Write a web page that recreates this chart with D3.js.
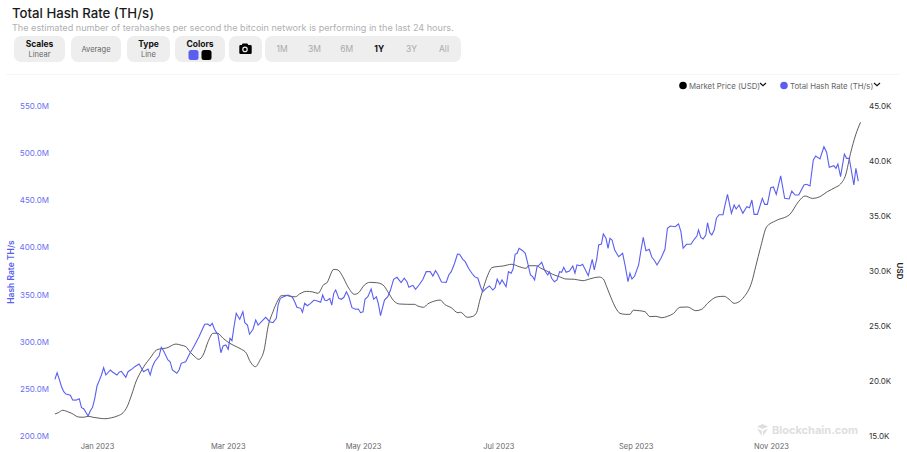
<!DOCTYPE html>
<html>
<head>
<meta charset="utf-8">
<title>Total Hash Rate (TH/s)</title>
<script src="https://d3js.org/d3.v7.min.js"></script>
<style>
  body { margin: 0; background: #fff; }
  svg { display: block; font-family: Inter, "Noto Sans", sans-serif; }
</style>
</head>
<body>
<script>
// [days since 1 Jan 2023, value]
const hashRate = [
  [-19,260.1],[-18,267.1],[-17,260],[-16,252.3],[-15,247],[-14,244.5],[-12,243.2],[-11,238.2],[-9.5,238],[-8,239.6],
  [-7,230],[-6,229],[-4,221.2],[-3,226.8],[-2,230.4],[-1,240],[0,253],[1,258.7],[2,264.7],[3,272.4],
  [4,264.7],[6,270],[7,267.9],[9,264.7],[10,267.6],[11,268.6],[13,262.3],[14,268.2],[16,271.4],[17,273.5],
  [19,276.4],[21,268.2],[23,271],[24,264.7],[25,273.5],[26,278.8],[28,284.8],[29,294],[30,290.5],[32,280.6],
  [33,278.8],[34,270],[36,266.5],[37,270],[38,277.1],[40,278.8],[42,288.3],[43,292],[44,296.2],[46,305.3],
  [47.4,312.4],[48.6,318.5],[50,318.8],[51,316.7],[52,319.5],[53,313.2],[54.6,307.1],[55.9,288.3],[56.9,295.5],[58.1,296.5],
  [59.2,292],[60,303.6],[60.9,301.1],[61.8,315.9],[62.8,330.1],[64.4,323.8],[65.8,331.8],[66.7,320.2],[67.9,317.7],[68.8,307.9],
  [70.4,313.2],[71.6,323],[72.7,317.7],[74.5,322],[76.1,325.9],[77.9,321.2],[79.4,320.2],[80.9,324.8],[81.7,338.9],[82.7,346],
  [84.2,347.7],[86.2,349.5],[88,347.7],[89.2,342.4],[90.2,336.5],[91.9,335.4],[92.7,331.2],[93.7,340.7],[94.9,338.2],[96.4,340.7],
  [97.9,344.2],[99.4,343.2],[100.9,341.8],[101.8,349.5],[102.7,344.2],[103.7,343.5],[105,346],[105.9,338.9],[106.8,351.3],[107.7,354.8],
  [109.1,346],[110.2,345],[111.4,347.1],[112.5,353],[113.6,347.7],[115,336.1],[116.7,334.4],[117.9,334.7],[118.9,330.8],[120,331.8],
  [120.9,345],[122.2,347.7],[123.7,355.9],[124.8,345],[126,347.7],[126.9,340.7],[127.9,327.6],[129.7,344.2],[131.2,347.7],[132.4,354.8],
  [133.8,366.2],[135.3,368.3],[137.2,362.6],[138.6,367.3],[139.8,363.6],[140.7,357.7],[141.8,359.1],[142.5,359.8],[143.7,355.6],[145.5,360.9],
  [147,366.2],[148.5,374.3],[150.3,374.3],[151.5,369.7],[152.7,375.3],[153.7,371.8],[155.4,363.3],[157.5,363],[158.7,370.8],[159.8,374.3],
  [161.3,383.2],[162.6,393],[163.5,392.7],[165,387.4],[166.1,384.9],[167.6,377.9],[169.1,372.6],[170.3,369],[171.8,367.3],[173,358.3],
  [174,353],[175.5,356.6],[177,359.1],[178.5,354.8],[179.6,357.3],[180.5,366.5],[181.7,360.9],[182.7,365.5],[184.5,358.3],[185.6,374.3],
  [186.8,372.6],[187.7,377.1],[188.6,392.7],[189.5,393.8],[190.4,399.1],[192,396.5],[193.2,393.8],[194.3,383.2],[195.5,370.8],[196.5,369],
  [197.4,365.5],[198.5,379.6],[199.5,381.4],[200.6,384.2],[201.8,376.1],[203.3,370.8],[204,374.3],[205.1,367.3],[206.3,363.6],[207.5,365.5],
  [208.7,374.3],[209.6,373.6],[210.5,378.9],[211.6,373.6],[213.1,375],[214.6,380.3],[215.6,372.6],[216.5,381.4],[218,380.6],[219,382.1],
  [220.1,377.1],[221.6,370],[223.4,387.4],[224.3,376.1],[225.4,387.4],[226.3,402.6],[227.5,403.6],[228.4,414.2],[229.6,409.7],[230.5,399.1],
  [231.4,409.7],[232.3,407.9],[233.5,397.3],[235.3,390.2],[237.1,393.8],[238.3,379.6],[239.5,363.6],[240.4,372.6],[241.3,366.5],[242.5,369.7],
  [244.3,381.4],[245.4,397.3],[246.4,410.7],[247.6,396.5],[249.1,398],[250.3,389.5],[251.5,385.9],[252.6,381.4],[254.4,388.5],[256.2,398],
  [257.3,420.3],[258.6,422.7],[260.8,422],[262.3,424.9],[263.4,416.7],[264.4,399.1],[265.9,403.3],[267.9,403.3],[269.4,408.6],[270.6,412.1],
  [271.3,418.5],[272.4,410.7],[273.4,408.9],[274.6,413.2],[275.4,426.2],[276.4,415.6],[277.3,413.2],[278.4,418.5],[279.4,430.9],[280.6,434.7],
  [282.4,434.7],[282.9,440.8],[284.4,456.3],[286.2,436.2],[287.4,445],[288.3,440.8],[289.6,445],[291.3,436.2],[293.1,443.2],[294.3,442.1],
  [295.4,450.3],[296.4,435.1],[297.9,435.1],[300.1,452.1],[301.2,445.7],[302.4,445.7],[303.9,463.3],[305.1,464.1],[306.4,456.3],[308.4,475.8],
  [310.2,452.1],[312.2,451.4],[313.4,459.8],[314.9,455.6],[316.5,455.6],[318.9,466.2],[320.1,467],[321.6,465.2],[323.1,492.7],[324.2,497],
  [326.1,493.8],[327.9,506.8],[329.1,500.9],[330.3,485],[332.4,486.7],[333.3,483.9],[334.2,488.5],[335.4,475],[337.1,498.8],[338.1,494.5],
  [339.3,494.5],[341.4,466.2],[342.3,483.9],[343.4,470.4]
];
const marketPrice = [
  [-19,17],[-17.4,17.12],[-15.5,17.34],[-13.6,17.24],[-11.4,17.06],[-8.4,16.73],[-6.2,16.7],[-3.9,16.79],[-1.7,16.7],[1.4,16.61],
  [3.6,16.57],[6.6,16.66],[9.6,16.85],[11.8,17.12],[13.6,17.66],[15.6,18.73],[17.6,19.94],[19.4,20.7],[21.6,21.45],[23.9,22.06],
  [26.9,22.82],[29.1,22.94],[31.4,23],[35.6,23.36],[38.1,23.25],[40.1,23.12],[41.9,22.66],[43.8,22.27],[45.9,21.97],[47.9,22.36],
  [50.1,23.57],[52.4,24.34],[54.4,24.34],[56.9,23.88],[59.9,23.43],[62.9,23.12],[65.2,22.88],[67.4,22.52],[68.9,21.85],[71.5,21.3],
  [73.4,21.85],[75.4,22.82],[77.2,24.94],[79.4,26.3],[81.7,27.36],[82.9,27.73],[85.4,27.79],[87.7,27.66],[89.5,27.66],[91.4,27.91],
  [94.5,28.15],[97.4,28.09],[99.7,27.97],[102.4,28.79],[103.5,28.88],[106.8,30.15],[108.7,30.09],[110.9,29.48],[113.2,28.57],[116.2,27.88],
  [117.7,27.97],[120.7,28.73],[123,28.97],[126,28.94],[129,28.73],[131.2,28.12],[133.8,27.3],[136.5,27],[140.2,26.97],[143.2,26.97],
  [144.7,26.82],[147.3,26.7],[149.2,27],[152.3,27.27],[154.8,27.36],[156.8,26.97],[159.8,26.66],[162.8,26.21],[164,26.25],[167,25.79],
  [169.5,25.88],[171.3,26.25],[172.5,27.21],[174,28.27],[176.3,29.64],[178.1,30.3],[180,30.39],[183,30.45],[187.1,30.61],[190.5,30.39],
  [193.6,30.24],[194.6,30.48],[198.1,30.48],[200.3,30.24],[202.6,30.03],[205.5,29.7],[208.6,29.48],[211.6,29.27],[215.3,29.25],[219.1,29.12],
  [222.1,29.27],[224.3,29.39],[226.6,29.45],[228.4,29.27],[229.9,28.57],[231.8,27.6],[234.1,26.6],[235.9,26.15],[238.3,26.06],[240.4,26.06],
  [241.9,26.43],[244.6,26.39],[247.2,26.3],[249.4,25.85],[252.1,25.88],[254.8,25.75],[257.3,25.88],[260.1,26.15],[262.9,26.7],[266.4,26.73],
  [270.1,26.39],[272.8,26.52],[275.4,27.06],[279.9,27.66],[282.9,27.7],[285.1,27.43],[287.4,27.06],[291.9,27.66],[295.4,29.03],[297.1,30.39],
  [299.4,32.21],[302.1,34.03],[306.2,34.57],[312.5,35.15],[316.4,36.3],[319.4,36.82],[322.7,36.6],[326.4,36.79],[329.4,37.21],[333.2,37.61],
  [335.4,37.91],[337.7,38.73],[339.9,40.7],[342.2,42.36],[344.4,43.52]
];
const hashTicks = [200, 250, 300, 350, 400, 450, 500, 550];
const priceTicks = [15, 20, 25, 30, 35, 40, 45];
const dateTicks = ["2023-01-01", "2023-03-01", "2023-05-01", "2023-07-01", "2023-09-01", "2023-11-01"];
const rangeLabels = ["1M", "3M", "6M", "1Y", "3Y", "All"];

const width = 907;
const height = 452;
const blue = "#5a5ff0";
const day0 = new Date(2023, 0, 1);
const toDate = d => d3.timeHour.offset(day0, d * 24);

const svg = d3.select("body").append("svg")
  .attr("width", width)
  .attr("height", height);

// scales
const x = d3.scaleTime()
  .domain([new Date(2023, 0, 1), new Date(2023, 10, 1)])
  .range([97, 771]);
const yHash = d3.scaleLinear().domain([200, 550]).range([436, 106]);
const yPrice = d3.scaleLinear().domain([15, 45]).range([436, 106]);

// header
svg.append("text").attr("x", 12).attr("y", 18)
  .attr("font-size", 13.2).attr("font-weight", 500).attr("fill", "#1a1a1a")
  .text("Total Hash Rate (TH/s)");
svg.append("text").attr("x", 12).attr("y", 30.5)
  .attr("font-size", 9.1).attr("fill", "#b0b0b0")
  .text("The estimated number of terahashes per second the bitcoin network is performing in the last 24 hours.");

// toolbar
function box(bx, w) {
  svg.append("rect").attr("x", bx).attr("y", 36).attr("width", w).attr("height", 26)
    .attr("rx", 7).attr("fill", "#eeeeee");
}
function label(cx, ly, text, size, weight, fill) {
  svg.append("text").attr("x", cx).attr("y", ly).attr("text-anchor", "middle")
    .attr("font-size", size).attr("font-weight", weight).attr("fill", fill).text(text);
}
box(14, 51); label(39.5, 47, "Scales", 8.5, 700, "#111"); label(39.5, 57, "Linear", 7.5, 400, "#666");
box(71, 50); label(96, 52, "Average", 7.5, 400, "#666");
box(127, 43); label(148.5, 47, "Type", 8.5, 700, "#111"); label(148.5, 57, "Line", 7.5, 400, "#666");
box(175, 50); label(200, 47, "Colors", 8.5, 700, "#111");
svg.append("rect").attr("x", 188.5).attr("y", 50).attr("width", 10).attr("height", 10).attr("rx", 2.5).attr("fill", blue);
svg.append("rect").attr("x", 201.5).attr("y", 50).attr("width", 10).attr("height", 10).attr("rx", 2.5).attr("fill", "#000");
box(229, 33);
svg.append("path").attr("fill", "#000")
  .attr("d", "M239.5 45h2.2l1-1.6h4.6l1 1.6h2.2a1.2 1.2 0 0 1 1.2 1.2v6.6a1.2 1.2 0 0 1-1.2 1.2h-10a1.2 1.2 0 0 1-1.2-1.2v-6.6a1.2 1.2 0 0 1 1.2-1.2z");
svg.append("circle").attr("cx", 245).attr("cy", 49.4).attr("r", 2.2).attr("fill", "none").attr("stroke", "#eee").attr("stroke-width", 1.2);
box(265, 196);
const rangeScale = d3.scalePoint().domain(rangeLabels).range([282, 444]);
rangeLabels.forEach(r => label(rangeScale(r), 52, r, 8.5, r === "1Y" ? 700 : 400, r === "1Y" ? "#111" : "#aaa"));

svg.append("line").attr("x1", 6).attr("x2", 900).attr("y1", 74.5).attr("y2", 74.5)
  .attr("stroke", "#f6f6f6");

// legend
function legendItem(cx, text, fill, chevron) {
  svg.append("circle").attr("cx", cx).attr("cy", 85.5).attr("r", 3.8).attr("fill", fill);
  svg.append("text").attr("x", cx + 6).attr("y", 88.5).attr("font-size", 7.8).attr("fill", "#666").text(text);
  svg.append("path").attr("fill", "none").attr("stroke", "#111").attr("stroke-width", 1.2)
    .attr("d", `M${chevron - 3} 83l3 2.6l3 -2.6`);
}
legendItem(683, "Market Price (USD)", "#000", 763);
legendItem(784, "Total Hash Rate (TH/s)", blue, 877);

// watermark
svg.append("path").attr("fill", "#dedede")
  .attr("d", "M762.5 424l5.5 2.5l-5.5 2.5l-5.5 -2.5z M757 428.5l4.8 2.2v5.3z M768 428.5l-4.8 2.2v5.3z");
svg.append("text").attr("x", 772).attr("y", 433.5)
  .attr("font-size", 11).attr("font-weight", 700).attr("fill", "#dedede")
  .text("Blockchain.com");

// axes
const gx = svg.append("g").attr("transform", "translate(0,438)")
  .call(d3.axisBottom(x)
    .tickValues(dateTicks.map(d => d3.timeParse("%Y-%m-%d")(d)))
    .tickSize(0).tickPadding(6)
    .tickFormat(d3.timeFormat("%b %Y")));
const gl = svg.append("g").attr("transform", "translate(49,0)")
  .call(d3.axisLeft(yHash).tickValues(hashTicks).tickSize(0).tickPadding(0)
    .tickFormat(d => d3.format(".1f")(d) + "M"));
const gr = svg.append("g").attr("transform", "translate(869,0)")
  .call(d3.axisRight(yPrice).tickValues(priceTicks).tickSize(0).tickPadding(0)
    .tickFormat(d => d3.format(".1f")(d) + "K"));
[gx, gl, gr].forEach(g => {
  g.select(".domain").remove();
  g.attr("font-family", null).attr("font-size", 8);
});
gx.attr("font-size", 7.5);
gx.selectAll("text").attr("fill", "#666");
gl.selectAll("text").attr("fill", "#6a6ef2");
gr.selectAll("text").attr("fill", "#333");

svg.append("text").attr("transform", "translate(14,272) rotate(-90)")
  .attr("text-anchor", "middle").attr("font-size", 8.5).attr("font-weight", 600).attr("fill", blue)
  .text("Hash Rate TH/s");
svg.append("text").attr("transform", "translate(896.5,271) rotate(90)")
  .attr("text-anchor", "middle").attr("font-size", 8).attr("font-weight", 600).attr("fill", "#222")
  .text("USD");

// lines
const hashLine = d3.line().x(d => x(toDate(d[0]))).y(d => yHash(d[1]));
const priceLine = d3.line().x(d => x(toDate(d[0]))).y(d => yPrice(d[1])).curve(d3.curveMonotoneX);

svg.append("path").datum(marketPrice)
  .attr("d", priceLine).attr("fill", "none").attr("stroke", "#333").attr("stroke-width", 0.8);
svg.append("path").datum(hashRate)
  .attr("d", hashLine).attr("fill", "none").attr("stroke", blue).attr("stroke-width", 1.1);
</script>
</body>
</html>
